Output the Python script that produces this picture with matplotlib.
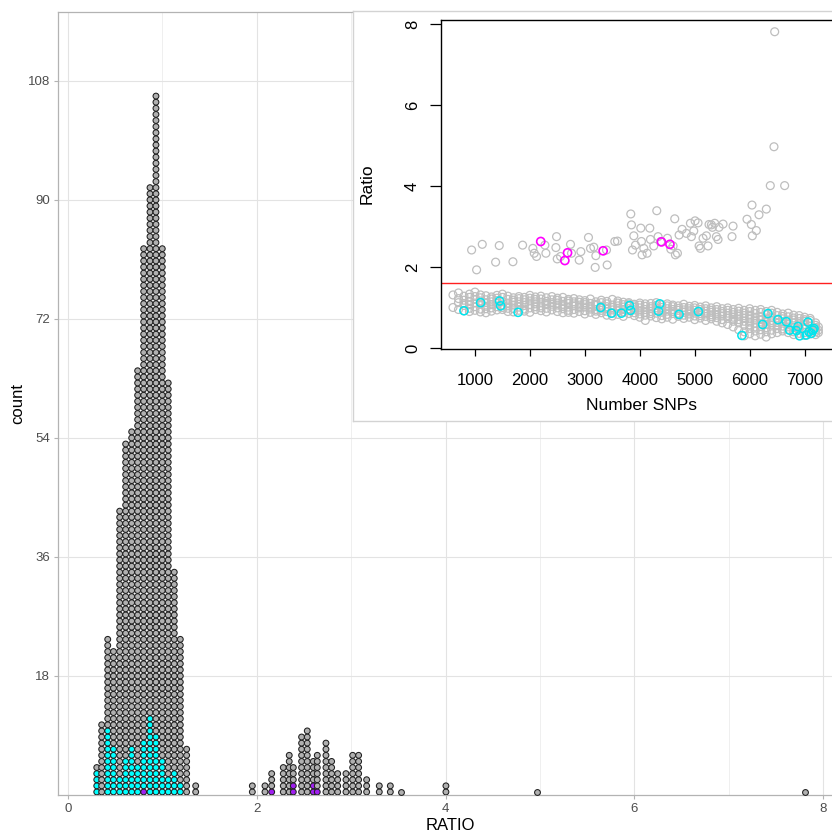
import numpy as np
import matplotlib.pyplot as plt

plt.rcParams['font.family'] = ['Liberation Sans', 'DejaVu Sans']

# dot plot: one stacked column per RATIO bin (total dots, cyan and purple ones sit at the bottom)
col_ratio = [0.305, 0.357, 0.421, 0.482, 0.548, 0.611, 0.675, 0.738, 0.802, 0.869,
             0.932, 0.999, 1.062, 1.126, 1.190, 1.257, 1.353,
             1.953, 2.087, 2.158, 2.281, 2.344, 2.387, 2.475, 2.535, 2.599, 2.641,
             2.733, 2.793, 2.857, 2.945, 3.016, 3.079, 3.164, 3.298, 3.415, 3.524,
             4.004, 4.965, 7.807]
col_total = [5, 12, 26, 24, 47, 58, 60, 70, 90, 100,
             115, 90, 68, 37, 26, 8, 2,
             2, 2, 4, 5, 7, 5, 10, 11, 6, 7,
             9, 6, 4, 4, 7, 7, 3, 2, 2, 1,
             2, 1, 1]
col_cyan = [4, 0, 11, 8, 3, 6, 8, 5, 8, 13,
            10, 6, 3, 4, 2, 0, 0,
            0, 0, 0, 0, 0, 0, 0, 0, 0, 0,
            0, 0, 0, 0, 0, 0, 0, 0, 0, 0,
            0, 0, 0]
col_purple = [0, 0, 0, 0, 0, 0, 0, 0, 1, 0,
              0, 0, 0, 0, 0, 0, 0,
              0, 0, 1, 0, 0, 2, 0, 0, 2, 1,
              0, 0, 0, 0, 0, 0, 0, 0, 0, 0,
              0, 0, 0]

# inset: Ratio vs Number SNPs
upper_snp = [939, 1030, 1133, 1376, 1442, 1691, 1867, 2054, 2079, 2121,
             2273, 2291, 2473, 2485, 2497, 2558, 2739, 2757, 2897, 2927,
             3066, 3103, 3163, 3200, 3188, 3394, 3406, 3545, 3594, 3836,
             3848, 3867, 3891, 3921, 4018, 4030, 4042, 4073, 4133, 4182,
             4194, 4254, 4309, 4333, 4382, 4503, 4564, 4606, 4636, 4648,
             4685, 4715, 4770, 4848, 4921, 4939, 4982, 5006, 5060, 5079,
             5103, 5151, 5212, 5242, 5260, 5303, 5321, 5363, 5394, 5424,
             5442, 5515, 5678, 5697, 5951, 6030, 6042, 6048, 6121, 6169,
             6303, 6375, 6636, 6442, 6455]
upper_ratio = [2.42, 1.93, 2.56, 2.12, 2.53, 2.13, 2.54, 2.46, 2.34, 2.26,
               2.54, 2.34, 2.48, 2.75, 2.20, 2.26, 2.56, 2.34, 2.17, 2.38,
               2.73, 2.46, 2.49, 2.28, 1.99, 2.42, 2.05, 2.63, 2.64, 3.31,
               3.04, 2.42, 2.77, 2.54, 2.96, 2.63, 2.30, 2.46, 2.34, 2.96,
               2.68, 2.52, 3.39, 2.75, 2.63, 2.71, 2.44, 2.52, 3.19, 2.30,
               2.34, 2.79, 2.93, 2.83, 3.08, 2.75, 2.89, 3.14, 3.09, 2.52,
               2.46, 2.71, 2.77, 2.52, 3.05, 3.04, 2.98, 3.08, 2.75, 2.68,
               2.98, 3.06, 2.75, 3.01, 3.18, 3.05, 3.53, 2.77, 2.90, 3.29,
               3.43, 4.01, 4.01, 4.97, 7.81]

low_snp = [600, 700, 800, 900, 1000, 1100, 1200, 1300, 1400, 1500,
           1600, 1700, 1800, 1900, 2000, 2100, 2200, 2300, 2400, 2500,
           2600, 2700, 2800, 2900, 3000, 3100, 3200, 3300, 3400, 3500,
           3600, 3700, 3800, 3900, 4000, 4100, 4200, 4300, 4400, 4500,
           4600, 4700, 4800, 4900, 5000, 5100, 5200, 5300, 5400, 5500,
           5600, 5700, 5800, 5900, 6000, 6100, 6200, 6300, 6400, 6500,
           6600, 6700, 6800, 6900, 7000, 7100, 7200, 7250]
low_ratio = [
    [1.00, 1.31],
    [1.36, 1.12, 0.95, 1.22],
    [1.05, 1.18, 0.92, 1.28, 1.10],
    [1.15, 0.98, 1.25, 1.07, 0.90, 1.33],
    [1.38, 1.02, 1.20, 0.93, 1.11, 1.27],
    [1.08, 1.24, 0.96, 1.16, 1.31, 0.89],
    [1.19, 1.03, 1.29, 0.87, 1.12, 0.97],
    [1.14, 1.26, 0.99, 1.07, 1.21, 0.91],
    [1.02, 1.17, 1.30, 0.94, 1.10, 1.23],
    [1.25, 1.06, 0.95, 1.15, 1.33, 1.00],
    [1.11, 1.20, 0.90, 1.04, 1.28, 0.98],
    [0.97, 1.13, 1.24, 1.06, 0.89, 1.18],
    [1.22, 1.01, 1.14, 0.93, 1.27, 1.08],
    [1.05, 1.19, 0.96, 1.12, 1.25, 0.91],
    [1.16, 0.99, 1.23, 1.07, 0.88, 1.30],
    [1.09, 1.26, 0.95, 1.14, 1.02, 1.20],
    [1.21, 1.04, 0.92, 1.13, 1.28, 0.99],
    [0.98, 1.15, 1.07, 1.24, 0.89, 1.10],
    [1.12, 0.94, 1.19, 1.03, 1.27, 1.08],
    [1.06, 1.18, 0.90, 1.11, 0.99, 1.23],
    [1.15, 0.97, 1.08, 1.25, 0.87, 1.02],
    [1.01, 1.20, 0.93, 1.10, 1.16, 0.88],
    [1.09, 0.95, 1.22, 1.04, 0.86, 1.14],
    [0.99, 1.13, 1.06, 0.90, 1.19, 1.02],
    [1.07, 0.92, 1.17, 0.84, 1.01, 1.12],
    [0.96, 1.10, 1.03, 1.21, 0.88, 0.99],
    [1.05, 0.83, 1.14, 0.95, 1.08, 0.91],
    [0.98, 1.12, 0.87, 1.03, 1.18, 0.93],
    [1.02, 0.90, 1.09, 0.81, 0.97, 1.15],
    [0.94, 1.06, 1.20, 0.86, 1.00, 0.79],
    [1.04, 0.92, 1.11, 0.83, 0.98, 1.16],
    [0.89, 1.01, 0.95, 1.13, 0.78, 1.07],
    [0.97, 1.09, 0.85, 1.03, 0.92, 1.12],
    [1.00, 0.87, 1.08, 0.94, 0.80, 1.04],
    [0.91, 1.06, 0.84, 0.99, 1.11, 0.76],
    [0.95, 0.88, 1.03, 0.81, 0.68, 1.09],
    [1.02, 0.90, 0.97, 0.79, 1.10, 0.85],
    [0.93, 1.05, 0.86, 0.99, 0.75, 1.12],
    [0.88, 1.00, 0.94, 0.80, 1.07, 0.72],
    [0.97, 0.83, 1.04, 0.91, 0.76, 1.09],
    [0.90, 1.02, 0.85, 0.95, 0.71, 1.06],
    [0.86, 0.98, 0.93, 0.78, 1.04, 0.82],
    [0.94, 0.81, 1.00, 0.88, 0.73, 1.08],
    [0.89, 0.97, 0.76, 0.92, 1.03, 0.84],
    [0.93, 0.79, 0.99, 0.86, 0.70, 1.05],
    [0.85, 0.95, 0.74, 0.90, 1.01, 0.80],
    [0.91, 0.78, 0.97, 0.84, 0.68, 1.04],
    [0.82, 0.93, 0.72, 0.88, 0.99, 0.77],
    [0.89, 0.75, 0.95, 0.81, 0.66, 1.02],
    [0.79, 0.90, 0.70, 0.85, 0.97, 0.62],
    [0.86, 0.73, 0.93, 0.58, 0.80, 0.99],
    [0.76, 0.88, 0.66, 0.82, 0.95, 0.52, 0.71],
    [0.84, 0.70, 0.91, 0.45, 0.62, 0.78, 0.98],
    [0.73, 0.86, 0.30, 0.56, 0.93, 0.66, 0.80, 0.40],
    [0.81, 0.64, 0.90, 0.48, 0.72, 0.97, 0.57, 0.35],
    [0.69, 0.85, 0.52, 0.76, 0.93, 0.61, 0.42, 0.30],
    [0.78, 0.60, 0.88, 0.45, 0.70, 0.95, 0.53, 0.34],
    [0.66, 0.82, 0.50, 0.74, 0.27, 0.58, 0.90, 0.40],
    [0.75, 0.57, 0.86, 0.44, 0.68, 0.93, 0.35, 0.62],
    [0.63, 0.80, 0.48, 0.71, 0.55, 0.88, 0.38],
    [0.72, 0.54, 0.84, 0.42, 0.65, 0.78, 0.47],
    [0.60, 0.77, 0.46, 0.69, 0.52, 0.86, 0.38],
    [0.69, 0.51, 0.81, 0.40, 0.62, 0.74, 0.33],
    [0.57, 0.73, 0.44, 0.65, 0.36, 0.80, 0.49],
    [0.66, 0.48, 0.76, 0.38, 0.58, 0.31, 0.70],
    [0.54, 0.68, 0.42, 0.61, 0.35, 0.73, 0.47],
    [0.50, 0.62, 0.40, 0.56, 0.33, 0.45],
    [0.52, 0.44, 0.38],
]

cyan_snp = [800, 1103, 1448, 1467, 1785, 3288, 3485, 3666, 3833, 3812,
            4340, 4363, 4715, 5066, 5858, 6236, 6515, 6667, 6727, 6849,
            6878, 6909, 7030, 7061, 7078, 7121, 7151, 7170, 6333]
cyan_ratio = [0.92, 1.12, 1.16, 1.04, 0.88, 1.00, 0.86, 0.86, 0.93, 1.05,
              0.91, 1.09, 0.83, 0.90, 0.31, 0.58, 0.70, 0.65, 0.44, 0.43,
              0.53, 0.30, 0.32, 0.64, 0.40, 0.36, 0.44, 0.48, 0.85]
mag_snp = [2197, 2636, 2685, 3333, 4394, 4548]
mag_ratio = [2.63, 2.16, 2.35, 2.40, 2.62, 2.56]
cutoff = 1.6

grey_fill = '#b0b0b0'
dot_edge = '#1e1e1e'
dot_step = 0.923  # vertical spacing of stacked dots, in count units

W, H = 832, 834
fig = plt.figure(figsize=(W / 100, H / 100), dpi=100)

# ---- main dot plot (ggplot theme_light look) ----
ax = fig.add_axes([57.5 / W, 39 / H, (842 - 57.5) / W, 783 / H])
ax.set_xlim(-0.111, 8.2)
ax.set_ylim(0, 118.4)

for x, n, nc, npu in zip(col_ratio, col_total, col_cyan, col_purple):
    ys = (np.arange(n) + 0.5) * dot_step
    colors = ['#a020f0'] * npu + ['#00ffff'] * nc + [grey_fill] * (n - nc - npu)
    ax.scatter(np.full(n, x), ys, s=17.5, c=colors, edgecolors=dot_edge,
               linewidths=0.75, zorder=3)

ax.set_xticks([0, 2, 4, 6, 8])
ax.set_xticks([1, 3, 5, 7], minor=True)
ax.set_yticks([18, 36, 54, 72, 90, 108])
ax.grid(True, which='major', color='#e3e3e3', lw=0.8)
ax.grid(True, which='minor', axis='x', color='#ececec', lw=0.6)
ax.set_axisbelow(True)
ax.tick_params(which='major', colors='#b3b3b3', labelcolor='#4d4d4d',
               length=3, width=0.8, labelsize=9.5, pad=2.5)
ax.tick_params(which='minor', length=0)
for s in ax.spines.values():
    s.set_color('#b3b3b3')
    s.set_linewidth(0.9)

fig.text(18 / W, 1 - 403 / H, 'count', rotation=90, ha='center', va='center', fontsize=12)
fig.text(450 / W, 1 - 826 / H, 'RATIO', ha='center', va='center', fontsize=12)

# ---- inset picture frame ----
frame = fig.add_axes([353 / W, 1 - 421 / H, 500 / W, 410 / H])
frame.set_xticks([])
frame.set_yticks([])
frame.set_facecolor('white')
for s in frame.spines.values():
    s.set_color('#d3d3d3')
    s.set_linewidth(1)

# ---- inset scatter (base R look) ----
ins = fig.add_axes([441 / W, 1 - 349 / H, (842 - 441) / W, (349 - 20) / H])
ins.set_xlim(382, 7680)
ins.set_ylim(-0.025, 8.1)

low_x = [sx for sx, vals in zip(low_snp, low_ratio) for _ in vals]
low_y = [v for vals in low_ratio for v in vals]
ring = dict(s=32, facecolors='none', linewidths=0.9)
ins.scatter(low_x, low_y, edgecolors='#bebebe', **ring)
ins.scatter(upper_snp, upper_ratio, edgecolors='#bebebe', **ring)
ins.scatter(cyan_snp, cyan_ratio, edgecolors='#00e5ee', s=34, facecolors='none', linewidths=1.1)
ins.scatter(mag_snp, mag_ratio, edgecolors='#ff00ff', s=34, facecolors='none', linewidths=1.2)
ins.axhline(cutoff, color='#ff2020', lw=1)

ins.set_xticks([1000, 2000, 3000, 4000, 5000, 6000, 7000])
ins.set_yticks([0, 2, 4, 6, 8])
ins.tick_params(axis='x', length=5.3, width=0.9, labelsize=12, pad=12)
ins.tick_params(axis='y', length=7.7, width=0.9, labelsize=12, pad=7.5, labelrotation=90)
for lab in ins.get_yticklabels():
    lab.set_va('center')
for s in ins.spines.values():
    s.set_color('black')
    s.set_linewidth(1.0)

fig.text(367 / W, 1 - 184 / H, 'Ratio', rotation=90, ha='center', va='center', fontsize=12.5)
fig.text(641.7 / W, 1 - 405 / H, 'Number SNPs', ha='center', va='center', fontsize=12.5)

fig.savefig('out.png', dpi=100)
